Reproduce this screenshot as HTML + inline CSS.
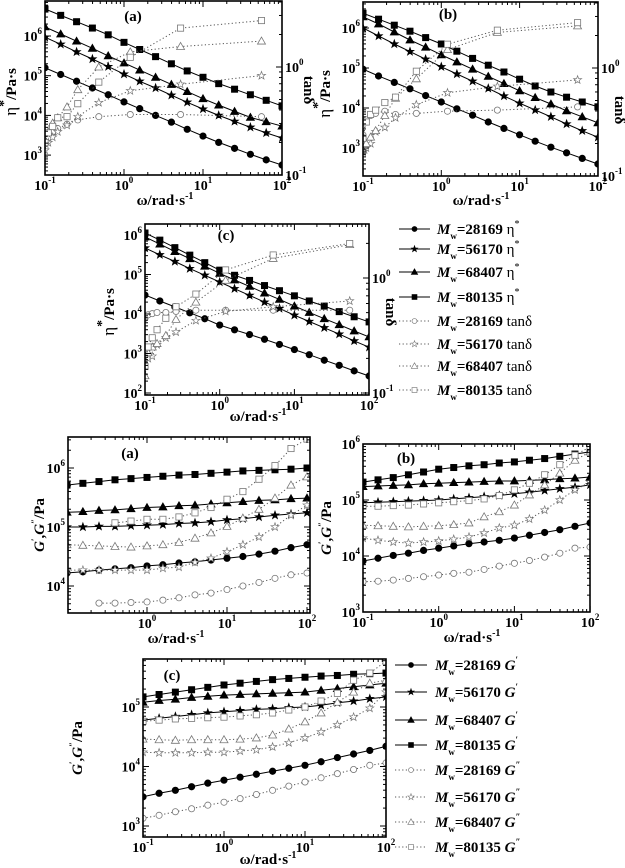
<!DOCTYPE html>
<html><head><meta charset="utf-8">
<style>
html,body{margin:0;padding:0;background:#fff;}
svg{display:block;font-family:"Liberation Serif",serif;}
</style></head>
<body>
<svg id="fig" width="625" height="868" viewBox="0 0 625 868" xmlns="http://www.w3.org/2000/svg"></svg>
<script>
// ---------- DATA (log10 values) ----------
const wEta = [0.1,0.158,0.251,0.398,0.631,1,1.58,2.51,3.98,6.31,10,15.8,25.1,39.8,63.1,100];
const wTan = [0.1,0.11,0.125,0.145,0.19,0.26,0.48,1.2,5.2,55];
const wG = [0.1,0.158,0.251,0.398,0.631,1,1.58,2.51,3.98,6.31,10,15.8,25.1,39.8,63.1,100];
const seriesNames = ["28169","56170","68407","80135"];

// panel (a) top: log10 eta*, log10 tan delta
const logEtaA_28169 = [5.2,5.03,4.86,4.69,4.52,4.34,4.17,4.0,3.83,3.65,3.48,3.32,3.17,3.02,2.88,2.75];
const logEtaA_56170 = [5.97,5.79,5.6,5.42,5.23,5.04,4.86,4.69,4.51,4.33,4.16,4.0,3.85,3.7,3.56,3.43];
const logEtaA_68407 = [6.23,6.05,5.87,5.69,5.5,5.32,5.14,4.96,4.78,4.6,4.42,4.26,4.1,3.95,3.84,3.73];
const logEtaA_80135 = [6.68,6.52,6.36,6.2,6.03,5.84,5.66,5.48,5.3,5.12,4.96,4.8,4.66,4.52,4.38,4.24];
const logTanA_28169 = [-0.75,-0.66,-0.6,-0.57,-0.53,-0.49,-0.46,-0.44,-0.44,-0.46];
const logTanA_56170 = [-0.77,-0.7,-0.65,-0.6,-0.54,-0.46,-0.33,-0.22,-0.16,-0.08];
const logTanA_68407 = [-0.68,-0.6,-0.52,-0.47,-0.37,-0.21,0.0,0.14,0.19,0.24];
const logTanA_80135 = [-0.7,-0.61,-0.55,-0.47,-0.46,-0.34,-0.14,0.09,0.36,0.43];
// panel (b) top
const logEtaB_28169 = [4.97,4.8,4.64,4.48,4.31,4.15,3.98,3.82,3.65,3.49,3.33,3.17,3.02,2.88,2.74,2.6];
const logEtaB_56170 = [6.0,5.8,5.6,5.41,5.22,5.03,4.85,4.67,4.49,4.3,4.12,3.95,3.78,3.6,3.43,3.27];
const logEtaB_68407 = [6.28,6.1,5.9,5.7,5.52,5.33,5.15,4.97,4.79,4.61,4.43,4.26,4.1,3.93,3.78,3.63];
const logEtaB_80135 = [6.37,6.22,6.07,5.92,5.76,5.6,5.42,5.24,5.07,4.9,4.72,4.55,4.4,4.27,4.15,4.03];
const logTanB_28169 = [-0.62,-0.48,-0.44,-0.42,-0.4,-0.43,-0.42,-0.4,-0.39,-0.36];
const logTanB_56170 = [-0.78,-0.74,-0.7,-0.59,-0.55,-0.46,-0.34,-0.23,-0.17,-0.11];
const logTanB_68407 = [-0.76,-0.7,-0.64,-0.58,-0.44,-0.28,-0.1,0.17,0.33,0.39];
const logTanB_80135 = [-0.65,-0.5,-0.43,-0.39,-0.32,-0.27,-0.03,0.22,0.35,0.42];
// panel (c) top
const logEtaC_28169 = [4.48,4.33,4.18,4.03,3.88,3.72,3.6,3.48,3.36,3.23,3.1,2.97,2.83,2.7,2.56,2.43];
const logEtaC_56170 = [5.67,5.5,5.33,5.15,4.98,4.81,4.64,4.47,4.3,4.14,3.97,3.81,3.65,3.49,3.32,3.16];
const logEtaC_68407 = [5.95,5.77,5.58,5.4,5.21,5.03,4.86,4.7,4.53,4.37,4.2,4.04,3.88,3.73,3.57,3.42];
const logEtaC_80135 = [6.05,5.87,5.68,5.49,5.3,5.11,4.98,4.85,4.72,4.59,4.46,4.33,4.2,4.06,3.93,3.8];
const logTanC_28169 = [-0.35,-0.32,-0.31,-0.3,-0.3,-0.29,-0.28,-0.28,-0.28,-0.28];
const logTanC_56170 = [-0.72,-0.7,-0.68,-0.58,-0.52,-0.47,-0.37,-0.29,-0.25,-0.2];
const logTanC_68407 = [-0.85,-0.65,-0.6,-0.57,-0.5,-0.36,-0.21,-0.02,0.17,0.29];
const logTanC_80135 = [-0.77,-0.6,-0.52,-0.45,-0.35,-0.25,-0.14,0.07,0.2,0.3];
// panel (a) bottom: log10 G', G''
const logG1D_28169 = [4.22,4.24,4.27,4.29,4.31,4.34,4.36,4.39,4.41,4.44,4.47,4.5,4.54,4.59,4.65,4.7];
const logG1D_56170 = [5.0,5.0,5.01,5.01,5.02,5.03,5.04,5.06,5.07,5.09,5.12,5.14,5.17,5.2,5.22,5.24];
const logG1D_68407 = [5.25,5.26,5.28,5.29,5.31,5.33,5.34,5.36,5.37,5.39,5.41,5.43,5.45,5.46,5.48,5.49];
const logG1D_80135 = [5.71,5.74,5.77,5.8,5.82,5.84,5.86,5.88,5.89,5.91,5.93,5.95,5.96,5.97,5.98,6.0];
const logG2D_28169 = [null,null,3.71,3.71,3.72,3.73,3.76,3.8,3.85,3.88,3.94,4.0,4.06,4.13,4.19,4.22];
const logG2D_56170 = [4.27,4.27,4.27,4.27,4.27,4.27,4.3,4.32,4.4,4.47,4.58,4.7,4.83,5.0,5.2,5.37];
const logG2D_68407 = [4.7,4.69,4.68,4.67,4.66,4.68,4.7,4.74,4.81,4.9,5.01,5.15,5.3,5.49,5.71,5.85];
const logG2D_80135 = [null,null,null,5.07,5.1,5.13,5.13,5.17,5.24,5.33,5.47,5.6,5.81,6.04,6.33,6.49];
// panel (b) bottom
const logG1E_28169 = [3.91,3.96,4.01,4.05,4.1,4.14,4.18,4.22,4.25,4.28,4.32,4.37,4.42,4.47,4.53,4.59];
const logG1E_56170 = [4.95,4.96,4.97,4.98,4.99,5.0,5.02,5.04,5.06,5.08,5.11,5.14,5.17,5.2,5.23,5.27];
const logG1E_68407 = [5.24,5.25,5.26,5.27,5.29,5.3,5.31,5.32,5.33,5.34,5.34,5.35,5.36,5.38,5.39,5.41];
const logG1E_80135 = [5.32,5.36,5.4,5.45,5.5,5.55,5.58,5.61,5.63,5.66,5.68,5.71,5.74,5.78,5.82,5.86];
const logG2E_28169 = [3.54,3.55,3.57,3.6,3.63,3.66,3.69,3.71,3.76,3.82,3.87,3.92,3.98,4.05,4.14,4.16];
const logG2E_56170 = [4.32,4.28,4.25,4.23,4.25,4.27,4.3,4.34,4.41,4.5,4.55,4.66,4.82,5.0,5.18,5.32];
const logG2E_68407 = [4.55,4.54,4.53,4.52,4.53,4.54,4.56,4.59,4.7,4.79,4.91,5.09,5.27,5.48,5.71,5.86];
const logG2E_80135 = [4.89,4.89,4.9,4.91,4.93,4.95,4.97,4.99,5.02,5.08,5.18,5.3,5.45,5.63,5.8,5.95];
// panel (c) bottom
const logG1F_28169 = [3.49,3.55,3.6,3.66,3.72,3.77,3.82,3.87,3.92,3.97,4.02,4.08,4.15,4.21,4.27,4.34];
const logG1F_56170 = [4.78,4.81,4.84,4.87,4.9,4.92,4.94,4.96,4.97,4.99,5.0,5.03,5.07,5.1,5.14,5.17];
const logG1F_68407 = [5.08,5.11,5.13,5.16,5.18,5.2,5.21,5.22,5.23,5.24,5.25,5.28,5.31,5.34,5.37,5.4];
const logG1F_80135 = [5.17,5.21,5.25,5.29,5.33,5.37,5.4,5.43,5.46,5.48,5.5,5.52,5.53,5.55,5.56,5.57];
const logG2F_28169 = [3.13,3.18,3.24,3.29,3.35,3.4,3.46,3.53,3.6,3.67,3.74,3.81,3.88,3.95,4.02,4.06];
const logG2F_56170 = [4.24,4.23,4.23,4.23,4.24,4.24,4.26,4.28,4.33,4.4,4.48,4.58,4.7,4.83,4.98,5.25];
const logG2F_68407 = [4.46,4.45,4.44,4.45,4.45,4.45,4.46,4.48,4.53,4.63,4.75,4.9,5.08,5.25,5.4,5.45];
const logG2F_80135 = [4.76,4.78,4.8,4.81,4.82,4.83,4.85,4.87,4.9,4.95,5.0,5.1,5.23,5.45,5.57,5.77];

// ---------- DRAWING ----------
const NS = "http://www.w3.org/2000/svg";
const svg = document.getElementById("fig");
function mk(tag, attrs, parent){
  const e = document.createElementNS(NS, tag);
  for (const k in attrs) e.setAttribute(k, attrs[k]);
  (parent||svg).appendChild(e);
  return e;
}
const shapes = ["circle","star","triangle","square"];
function marker(g, shape, x, y, filled){
  const fill = filled ? "#000" : "#fff";
  const stroke = filled ? "#000" : "#777";
  let e;
  if (shape==="circle") e = mk("circle",{cx:x,cy:y,r:filled?3.2:3.1,fill,stroke,"stroke-width":0.8},g);
  else if (shape==="square") e = mk("rect",{x:x-3.1,y:y-3.1,width:6.2,height:6.2,fill,stroke,"stroke-width":0.8},g);
  else if (shape==="triangle") e = mk("polygon",{points:`${x},${y-4} ${x+4},${y+3} ${x-4},${y+3}`,fill,stroke,"stroke-width":0.8},g);
  else {
    let p=[];
    for (let i=0;i<10;i++){const r=i%2?1.7:4.2;const a=-Math.PI/2+i*Math.PI/5;p.push((x+r*Math.cos(a)).toFixed(1)+","+(y+r*Math.sin(a)).toFixed(1));}
    e = mk("polygon",{points:p.join(" "),fill,stroke,"stroke-width":0.7},g);
  }
  
  
  return e;
}
function pow10Label(g, x, y, exp, anchor){
  const t = mk("text",{x,y,"font-size":14,"font-weight":"bold","text-anchor":anchor||"middle"},g);
  
  
  const a = document.createElementNS(NS,"tspan"); a.textContent="10"; t.appendChild(a);
  const b = document.createElementNS(NS,"tspan"); b.setAttribute("dy","-7"); b.setAttribute("font-size","9"); b.textContent=String(exp); t.appendChild(b);
  return t;
}
function makePanel(P){
  const g = mk("g",{});
  
  
  const X = v => P.x.p + (Math.log10(v) - P.x.v) * P.x.ppd;
  const YL = lv => P.yL.p - (lv - P.yL.v) * P.yL.ppd;
  const YR = P.yR ? (lv => P.yR.p - (lv - P.yR.v) * P.yR.ppd) : null;
  const clip = mk("clipPath",{id:"clip-"+P.name},g);
  mk("rect",{x:P.x0,y:P.y0,width:P.x1-P.x0,height:P.y1-P.y0},clip);
  const sg = mk("g",{"clip-path":`url(#clip-${P.name})`},g);
  
  
  P.series.forEach(S => {
    const Y = S.right ? YR : YL;
    const pts = [];
    S.data.forEach((v,i) => { if (v!==null && v!==undefined) pts.push([X(S.w[i]), Y(v)]); });
    const line = mk("polyline",{points:pts.map(p=>p[0].toFixed(1)+","+p[1].toFixed(1)).join(" "),fill:"none",
      stroke:S.filled?"#000":"#555","stroke-width":1,"stroke-dasharray":S.filled?"none":"1.2 2.4"},sg);
    
    
    pts.forEach(p => marker(sg, S.shape, p[0], p[1], S.filled));
  });
  const box = mk("rect",{x:P.x0,y:P.y0,width:P.x1-P.x0,height:P.y1-P.y0,fill:"none",stroke:"#000","stroke-width":1.6},g);
  
  
  const tk = mk("g",{stroke:"#000","stroke-width":1},g);
  
  
  for (let d=-1; d<=2; d++){
    for (let m=1; m<=9; m++){
      const v = m*Math.pow(10,d); const x = X(v);
      if (x < P.x0-0.5 || x > P.x1+0.5) continue;
      const L = m===1?6:3;
      mk("line",{x1:x,y1:P.y1,x2:x,y2:P.y1-L},tk);
      mk("line",{x1:x,y1:P.y0,x2:x,y2:P.y0+L},tk);
      if (d===2) break;
    }
  }
  P.xLabels.forEach(e => pow10Label(g, X(Math.pow(10,e)), P.y1+15, e));
  for (let d=1; d<=7; d++){
    for (let m=1; m<=9; m++){
      const lv = d + Math.log10(m); const y = YL(lv);
      if (y < P.y0-0.5 || y > P.y1+0.5) continue;
      const L = m===1?6:3;
      mk("line",{x1:P.x0,y1:y,x2:P.x0+L,y2:y},tk);
      if (!YR) mk("line",{x1:P.x1,y1:y,x2:P.x1-L,y2:y},tk);
    }
  }
  P.yLabels.forEach(e => pow10Label(g, P.x0-3, YL(e)+5, e, "end"));
  if (YR){
    for (let d=-2; d<=1; d++){
      for (let m=1; m<=9; m++){
        const lv = d + Math.log10(m); const y = YR(lv);
        if (y < P.y0-0.5 || y > P.y1+0.5) continue;
        mk("line",{x1:P.x1,y1:y,x2:P.x1-(m===1?6:3),y2:y},tk);
      }
    }
    [0,-1].forEach(e => pow10Label(g, P.x1+3, YR(e)+5, e, "start"));
  }
  const lab = mk("text",{x:P.lab[0],y:P.lab[1],"font-size":15,"font-weight":"bold","text-anchor":"middle"},g);
  lab.textContent = P.letter;
  
  
  return g;
}
function etaSeries(w2, e, t, tag){
  const out=[];
  e.forEach((d,i)=>out.push({name:`eta-${tag}-${seriesNames[i]}`,w:wEta,data:d,shape:shapes[i],filled:true,right:false}));
  t.forEach((d,i)=>out.push({name:`tan-${tag}-${seriesNames[i]}`,w:w2,data:d,shape:shapes[i],filled:false,right:true}));
  return out;
}
function gSeries(g1, g2, tag){
  const out=[];
  g1.forEach((d,i)=>out.push({name:`gprime-${tag}-${seriesNames[i]}`,w:wG,data:d,shape:shapes[i],filled:true}));
  g2.forEach((d,i)=>out.push({name:`gdouble-${tag}-${seriesNames[i]}`,w:wG,data:d,shape:shapes[i],filled:false}));
  return out;
}
makePanel({name:"eta-panel-a",letter:"(a)",lab:[133,21],x0:45,x1:282,y0:1,y1:175,
  x:{v:-1,p:45,ppd:79},yL:{v:6,p:36,ppd:39.7},yR:{v:0,p:67,ppd:108},xLabels:[-1,0,1,2],yLabels:[3,4,5,6],
  series:etaSeries(wTan,[logEtaA_28169,logEtaA_56170,logEtaA_68407,logEtaA_80135],[logTanA_28169,logTanA_56170,logTanA_68407,logTanA_80135],"a")});
makePanel({name:"eta-panel-b",letter:"(b)",lab:[448,19],x0:363,x1:598,y0:2,y1:176,
  x:{v:-1,p:363,ppd:78.3},yL:{v:6,p:28,ppd:40},yR:{v:0,p:68,ppd:108},xLabels:[-1,0,1,2],yLabels:[3,4,5,6],
  series:etaSeries(wTan,[logEtaB_28169,logEtaB_56170,logEtaB_68407,logEtaB_80135],[logTanB_28169,logTanB_56170,logTanB_68407,logTanB_80135],"b")});
makePanel({name:"eta-panel-c",letter:"(c)",lab:[226,240],x0:145,x1:369,y0:224,y1:395,
  x:{v:-1,p:145,ppd:74.7},yL:{v:6,p:235,ppd:39.5},yR:{v:0,p:278,ppd:115},xLabels:[-1,0,1,2],yLabels:[2,3,4,5,6],
  series:etaSeries(wTan,[logEtaC_28169,logEtaC_56170,logEtaC_68407,logEtaC_80135],[logTanC_28169,logTanC_56170,logTanC_68407,logTanC_80135],"c")});
makePanel({name:"modulus-panel-a",letter:"(a)",lab:[130,458],x0:68,x1:310,y0:437,y1:613,
  x:{v:0,p:147,ppd:80},yL:{v:6,p:468,ppd:59},xLabels:[0,1,2],yLabels:[4,5,6],
  series:gSeries([logG1D_28169,logG1D_56170,logG1D_68407,logG1D_80135],[logG2D_28169,logG2D_56170,logG2D_68407,logG2D_80135],"a")});
makePanel({name:"modulus-panel-b",letter:"(b)",lab:[406,463],x0:363,x1:590,y0:444,y1:612,
  x:{v:-1,p:363,ppd:75.7},yL:{v:6,p:444,ppd:56},xLabels:[-1,0,1,2],yLabels:[3,4,5,6],
  series:gSeries([logG1E_28169,logG1E_56170,logG1E_68407,logG1E_80135],[logG2E_28169,logG2E_56170,logG2E_68407,logG2E_80135],"b")});
makePanel({name:"modulus-panel-c",letter:"(c)",lab:[172,680],x0:143,x1:386,y0:659,y1:837,
  x:{v:-1,p:143,ppd:81},yL:{v:5,p:707,ppd:59.5},xLabels:[-1,0,1,2],yLabels:[3,4,5],
  series:gSeries([logG1F_28169,logG1F_56170,logG1F_68407,logG1F_80135],[logG2F_28169,logG2F_56170,logG2F_68407,logG2F_80135],"c")});

function title(x, y, rot, html, name){
  const t = mk("text",{x:0,y:0,"font-size":15,"font-weight":"bold","text-anchor":"middle",transform:`translate(${x},${y}) rotate(${rot})`});
  t.innerHTML = html;
  
  
}
const omegaT = 'ω/rad·s<tspan dy="-6" font-size="10">-1</tspan>';
const etaT = '<tspan font-weight="normal" font-size="17">η</tspan><tspan dy="-8" font-size="14">*</tspan><tspan dy="8">/Pa·s</tspan>';
const gT = '<tspan font-style="italic">G</tspan><tspan dy="-6" font-size="9">′</tspan><tspan dy="6">,</tspan><tspan font-style="italic">G</tspan><tspan dy="-6" font-size="9">″</tspan><tspan dy="6">/Pa</tspan>';
title(165,205,0,omegaT,"x-axis-title-a");
title(481,205,0,omegaT,"x-axis-title-b");
title(258,421,0,omegaT,"x-axis-title-c");
title(176,643,0,omegaT,"x-axis-title-modulus-a");
title(472,642,0,omegaT,"x-axis-title-modulus-b");
title(268,864,0,omegaT,"x-axis-title-modulus-c");
title(16,92,-90,etaT,"y-axis-title-a");
title(330,94,-90,etaT,"y-axis-title-b");
title(114,312,-90,etaT,"y-axis-title-c");
title(304,90,90,'tanδ',"y2-axis-title-a");
title(615,110,90,'tanδ',"y2-axis-title-b");
title(386,312,90,'tanδ',"y2-axis-title-c");
title(44,525,-90,gT,"y-axis-title-modulus-a");
title(331,528,-90,gT,"y-axis-title-modulus-b");
title(82,748,-90,gT,"y-axis-title-modulus-c");

function legend(rowsY, lx1, lx2, tx, labels, suffix, name){
  const g = mk("g",{});
  
  
  rowsY.forEach((y,i) => {
    const filled = i < 4; const shape = shapes[i%4];
    const e = mk("g",{},g);
    
    
    mk("line",{x1:lx1,y1:y,x2:lx2,y2:y,stroke:filled?"#000":"#555","stroke-width":1,"stroke-dasharray":filled?"none":"1.2 2.4"},e);
    const m = marker(e, shape, (lx1+lx2)/2, y, filled);
    m.setAttribute("transform",`translate(${(lx1+lx2)/2},${y}) scale(0.8) translate(${-(lx1+lx2)/2},${-y})`);
    const t = mk("text",{x:tx,y:y+5,"font-size":15,"font-weight":"bold"},e);
    t.innerHTML = `<tspan font-style="italic">M</tspan><tspan dy="5" font-size="9">w</tspan><tspan dy="-5">=${labels[i%4]}</tspan>` + suffix(i);
  });
}
legend([229,249,272,297,321,344,366,390],399,430,437,seriesNames,
  i => i<4 ? '<tspan font-weight="normal"> η</tspan><tspan dy="-7" font-size="10" font-weight="normal">*</tspan>' : '<tspan font-weight="normal" font-size="15"> tanδ</tspan>',
  "legend-eta");
legend([665,692,720,745,770,797,822,847],395,427,435,seriesNames,
  i => ' <tspan font-style="italic">G</tspan><tspan dy="-7" font-size="9">' + (i<4?'′':'″') + '</tspan>',
  "legend-modulus");
</script>
</body></html>
